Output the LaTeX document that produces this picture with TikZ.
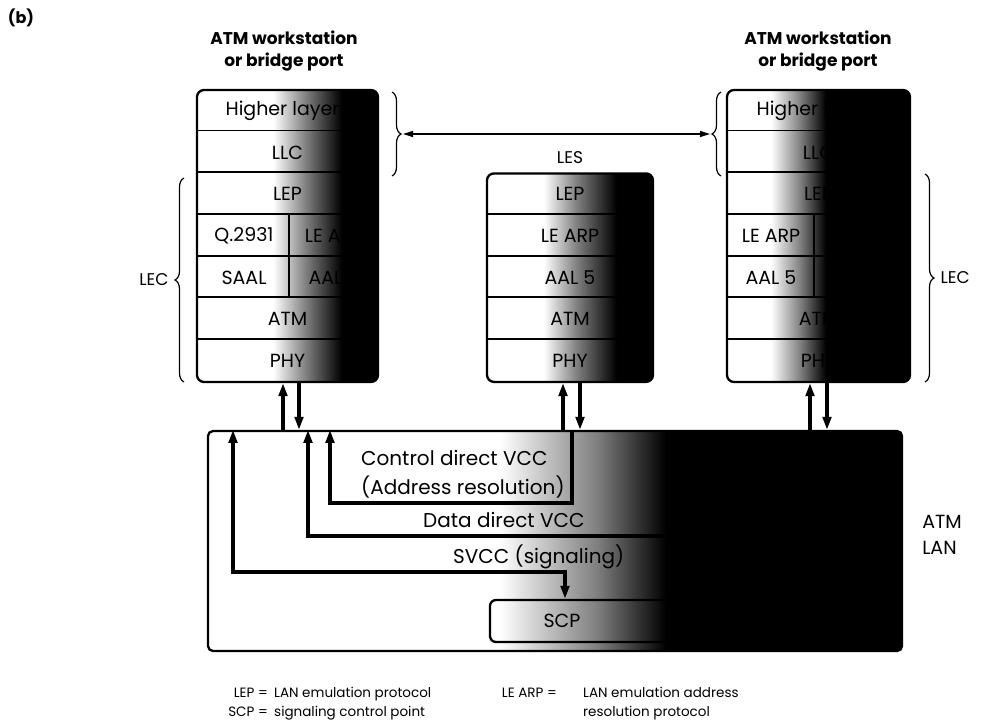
\documentclass[tikz,border=0pt]{standalone}
\usepackage{fontspec}
\setmainfont{Poppins}
\usetikzlibrary{arrows.meta,decorations.pathreplacing}
\pgfdeclarehorizontalshading{wsfade}{100bp}{color(0bp)=(white); color(46bp)=(white); color(55bp)=(black!50); color(65bp)=(black); color(100bp)=(black)}
\pgfdeclarehorizontalshading{lesfade}{100bp}{color(0bp)=(white); color(42bp)=(white); color(52bp)=(black!50); color(64bp)=(black); color(100bp)=(black)}
\pgfdeclarehorizontalshading{darkfade}{100bp}{color(0bp)=(white); color(37bp)=(white); color(45bp)=(black!50); color(52bp)=(black); color(100bp)=(black)}
\pgfdeclarehorizontalshading{lanfade}{100bp}{color(0bp)=(white); color(46bp)=(white); color(53bp)=(black!50); color(58bp)=(black); color(100bp)=(black)}
\newcommand{\layerfont}{\fontsize{19}{19}\selectfont}
\tikzstyle{stack} = [draw, line width=2.3pt, rounded corners=7pt, inner sep=0pt]
\tikzstyle{layer} = [font=\layerfont, inner sep=0pt]
\tikzstyle{sep} = [line width=1.8pt]
\tikzstyle{title} = [font=\bfseries\fontsize{17}{22}\selectfont, align=center]
\tikzstyle{vcclabel} = [font=\fontsize{20}{20}\selectfont, inner sep=0pt]
\tikzstyle{legend} = [font=\fontsize{13.5}{13.5}\selectfont, inner sep=0pt]
\tikzstyle{diredge} = [line width=3.2pt, -{Triangle[length=13pt,width=8.5pt]}]
\tikzstyle{lesedge} = [line width=1.3pt, {Triangle[length=10pt,width=6pt]}-{Triangle[length=10pt,width=6pt]}]
\tikzstyle{brace} = [decorate, decoration={brace, amplitude=9pt}, line width=1.2pt]

\begin{document}
\begin{tikzpicture}[x=1pt,y=-1pt,every node/.style={font=\fontsize{17}{17}\selectfont}]
    \useasboundingbox (0,0) rectangle (998,726);
    \node[font=\bfseries\fontsize{16}{16}\selectfont] (tag) at (21,18) {(b)};

    % the three protocol stacks
    \node[stack, shading=wsfade, minimum width=181pt, minimum height=292pt] (lws) at (287.5,236) {};
    \node[stack, shading=lesfade, minimum width=166pt, minimum height=208.5pt] (les) at (570,277.65) {};
    \node[stack, shading=darkfade, minimum width=183pt, minimum height=292pt] (rws) at (818.5,236) {};
    \foreach \k in {1,...,6}{
        \draw[sep] (lws.north west) ++(0,\k*41.7) -- ++(181,0);
        \draw[sep] (rws.north west) ++(0,\k*41.7) -- ++(183,0);
    }
    \foreach \k in {1,...,4}{
        \draw[sep] (les.north west) ++(0,\k*41.7) -- ++(166,0);
    }
    \draw[sep] (lws.north west) ++(93,125.1) -- ++(0,83.4);
    \draw[sep] (rws.north west) ++(88,125.1) -- ++(0,83.4);

    \node[title] (ltitle) at (284,51) {ATM workstation\\or bridge port};
    \node[title] (rtitle) at (818,51) {ATM workstation\\or bridge port};

    \node[layer] (lhl) at (287.5,110.85) {Higher layers};
    \node[layer] (lllc) at (287.5,152.55) {LLC};
    \node[layer] (llep) at (287.5,194.25) {LEP};
    \node[layer] (lq) at (244,235.95) {Q.2931};
    \node[layer] (larp) at (334,235.95) {LE ARP};
    \node[layer] (lsaal) at (244,277.65) {SAAL};
    \node[layer] (laal) at (334,277.65) {AAL 5};
    \node[layer] (latm) at (287.5,319.35) {ATM};
    \node[layer] (lphy) at (287.5,361.05) {PHY};

    \node[layer] (mlep) at (570,194.25) {LEP};
    \node[layer] (marp) at (570,235.95) {LE ARP};
    \node[layer] (maal) at (570,277.65) {AAL 5};
    \node[layer] (matm) at (570,319.35) {ATM};
    \node[layer] (mphy) at (570,361.05) {PHY};

    \node[layer] (rhl) at (818.5,110.85) {Higher layers};
    \node[layer] (rllc) at (818.5,152.55) {LLC};
    \node[layer] (rlep) at (818.5,194.25) {LEP};
    \node[layer] (rarp) at (771,235.95) {LE ARP};
    \node[layer] (rq) at (863,235.95) {Q.2931};
    \node[layer] (raal) at (771,277.65) {AAL 5};
    \node[layer] (rsaal) at (863,277.65) {SAAL};
    \node[layer] (ratm) at (818.5,319.35) {ATM};
    \node[layer] (rphy) at (818.5,361.05) {PHY};

    % braces
    \draw[brace] (392,92) -- (392,176) coordinate[midway, xshift=11pt] (lesl);
    \draw[brace] (721,176) -- (721,92) coordinate[midway, xshift=-11pt] (lesr);
    \draw[lesedge] (lesl) -- (lesr);
    \node (lestxt) at (570,158) {LES};
    \draw[brace] (184,382) -- (184,178) coordinate[midway, xshift=-12pt] (lecl);
    \node[anchor=east] (lecltxt) at (lecl) {LEC};
    \draw[brace] (925,174) -- (925,382) coordinate[midway, xshift=12pt] (lecr);
    \node[anchor=west] (lecrtxt) at (lecr) {LEC};

    % the ATM LAN
    \node[stack, shading=lanfade, rounded corners=5pt, minimum width=694pt, minimum height=220pt] (lan) at (555,541) {};
    \node[draw, line width=2.3pt, rounded corners=6pt, minimum width=270pt, minimum height=42pt] (scp) at (625,621) {};
    \node[layer] (scptxt) at (562,621) {SCP};
    \node[align=left, font=\fontsize{19}{26}\selectfont] (atmlan) at (942,535) {ATM\\LAN};

    \draw[diredge] (lan.north -| 283,0) -- (lws.south -| 283,0);
    \draw[diredge] (lws.south -| 299,0) -- (lan.north -| 299,0);
    \draw[diredge] (lan.north -| 563,0) -- (les.south -| 563,0);
    \draw[diredge] (les.south -| 580,0) -- (lan.north -| 580,0);
    \draw[diredge] (lan.north -| 810,0) -- (rws.south -| 810,0);
    \draw[diredge] (rws.south -| 827,0) -- (lan.north -| 827,0);

    % VCCs inside the LAN
    \draw[diredge] (lan.north -| 572,0) |- (330,503) -- (lan.north -| 330,0);
    \draw[diredge] (lan.north -| 818,0) |- (308,536) -- (lan.north -| 308,0);
    \draw[diredge, {Triangle[length=13pt,width=8.5pt]}-{Triangle[length=13pt,width=8.5pt]}] (scp.north -| 565,0) |- (233,572) -- (lan.north -| 233,0);
    \node[vcclabel, anchor=west] (ctl) at (361,458) {Control direct VCC};
    \node[vcclabel, anchor=west] (adr) at (361,487) {(Address resolution)};
    \node[vcclabel, anchor=west] (dat) at (423,520) {Data direct VCC};
    \node[vcclabel, anchor=west] (svc) at (453,557) {SVCC (signaling)};

    % legend
    \node[legend, anchor=base east] (lepk) at (268,697) {LEP =};
    \node[legend, anchor=base west] (lepv) at (274,697) {LAN emulation protocol};
    \node[legend, anchor=base east] (scpk) at (268,716) {SCP =};
    \node[legend, anchor=base west] (scpv) at (274,716) {signaling control point};
    \node[legend, anchor=base east] (arpk) at (557,697) {LE ARP =};
    \node[legend, anchor=base west] (arpv) at (583,697) {LAN emulation address};
    \node[legend, anchor=base west] (arpw) at (583,716) {resolution protocol};
\end{tikzpicture}
\end{document}
